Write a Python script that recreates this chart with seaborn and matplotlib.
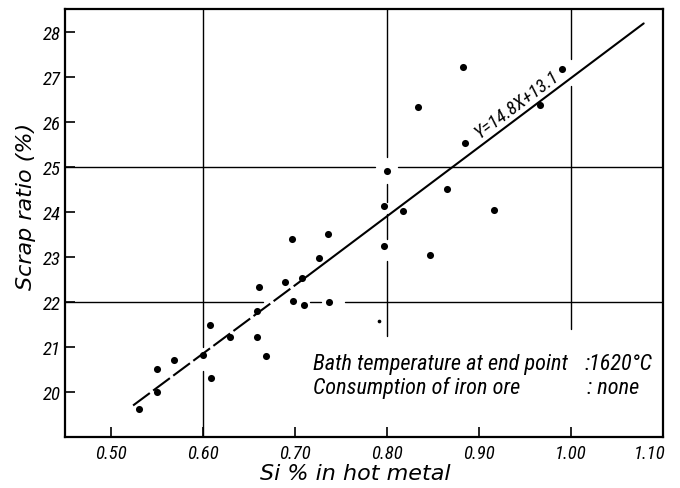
import matplotlib
matplotlib.use("Agg")
import matplotlib.pyplot as plt
import seaborn as sns
import pandas as pd
from matplotlib import font_manager
import matplotlib.transforms as mtransforms

# ---- data ----
si_pct = [0.530, 0.550, 0.550, 0.568, 0.600, 0.609, 0.608, 0.629, 0.659, 0.668,
          0.659, 0.661, 0.689, 0.708, 0.698, 0.710, 0.737, 0.726, 0.697, 0.736,
          0.797, 0.800, 0.797, 0.817, 0.847, 0.865, 0.885, 0.834, 0.883, 0.916,
          0.966, 0.990]
scrap_ratio = [19.62, 20.00, 20.51, 20.72, 20.81, 20.30, 21.49, 21.21, 21.23, 20.80,
               21.80, 22.33, 22.44, 22.53, 22.01, 21.92, 21.99, 22.98, 23.40, 23.50,
               23.23, 24.90, 24.12, 24.01, 23.03, 24.50, 25.53, 26.32, 27.21, 24.03,
               26.38, 27.17]
small_si = [0.791]
small_scrap = [21.58]

fit_x = [0.524, 0.714, 1.079]
fit_y = [19.70, 22.58, 28.18]

x_ticks = [0.50, 0.60, 0.70, 0.80, 0.90, 1.00, 1.10]
x_tick_labels = ["0.50", "0.60", "0.70", "0.80", "0.90", "1.00", "1.10"]
y_ticks = [20, 21, 22, 23, 24, 25, 26, 27, 28]
y_tick_labels = [str(v) for v in y_ticks]

equation = "Y=14.8X+13.1"
note_1 = "Bath temperature at end point"
note_1_val = ":1620°C"
note_2 = "Consumption of iron ore"
note_2_val = ": none"

# ---- style ----
sns.set_theme(style="white")
plt.rcParams["font.family"] = ["DejaVu Sans"]
plt.rcParams["text.color"] = "black"
plt.rcParams["axes.labelcolor"] = "black"
plt.rcParams["xtick.color"] = "black"
plt.rcParams["ytick.color"] = "black"

avail = {f.name for f in font_manager.fontManager.ttflist}
hand = "DejaVu Sans"
for cand in ["Liberation Sans Narrow", "Roboto Condensed", "Open Sans Condensed",
             "Liberation Sans", "Roboto"]:
    if cand in avail:
        hand = cand
        break
hand_fam = [hand, "DejaVu Sans"]

fig = plt.figure(figsize=(6.8, 4.89), dpi=100)
ax = fig.add_axes([65 / 680, 1 - 438 / 489, 598 / 680, 428 / 489])
ax.set_xlim(0.45, 1.10)
ax.set_ylim(19.0, 28.5)

# grid lines with the gaps of the original drawing
vsegs = [(0.60, 21.0, 28.5), (0.60, 19.0, 20.47),
         (0.80, 25.22, 28.5), (0.80, 24.22, 24.62), (0.80, 23.40, 23.96), (0.80, 21.25, 22.91),
         (1.00, 27.40, 28.5), (1.00, 21.40, 26.78)]
hsegs = [(25, 0.45, 0.787), (25, 0.812, 1.10),
         (22, 0.45, 0.665), (22, 0.716, 0.728), (22, 0.754, 1.10)]
for x, y0, y1 in vsegs:
    ax.plot([x, x], [y0, y1], color="black", lw=1.0, zorder=1)
for y, x0, x1 in hsegs:
    ax.plot([x0, x1], [y, y], color="black", lw=1.0, zorder=1)

# regression line: dashed lower part, solid upper part
ax.plot(fit_x[:2], fit_y[:2], color="black", lw=1.5, dashes=(10, 2), zorder=2)
ax.plot(fit_x[1:], fit_y[1:], color="black", lw=1.5, zorder=2)

df = pd.DataFrame({"si": si_pct, "scrap": scrap_ratio})
sns.scatterplot(data=df, x="si", y="scrap", ax=ax, color="black", s=26,
                edgecolor="black", linewidth=0, zorder=3)
sns.scatterplot(x=small_si, y=small_scrap, ax=ax, color="black", s=7,
                linewidth=0, zorder=3)

# axes styling
for sp in ax.spines.values():
    sp.set_visible(True)
    sp.set_color("black")
    sp.set_linewidth(1.6)
ax.set_xticks(x_ticks)
ax.set_xticklabels(x_tick_labels, family=hand_fam, style="italic", fontsize=13.5, color="black")
ax.set_yticks(y_ticks)
ax.set_yticklabels(y_tick_labels, family=hand_fam, style="italic", fontsize=13.5, color="black")
ax.tick_params(axis="both", direction="in", length=7, width=1.2, color="black",
               left=True, bottom=True)
ax.tick_params(axis="x", pad=5)
ax.tick_params(axis="y", pad=3)
last = ax.get_xticklabels()[-1]
last.set_ha("right")
last.set_transform(last.get_transform() + mtransforms.ScaledTranslation(3 / 100, 0, fig.dpi_scale_trans))

ax.set_xlabel("Si % in hot metal", fontsize=16, style="italic", family=["DejaVu Sans"], color="black")
ax.set_ylabel("Scrap ratio (%)", fontsize=16, style="italic", family=["DejaVu Sans"], color="black")
ax.xaxis.set_label_coords(0.485, -0.083)
ax.yaxis.set_label_coords(-0.065, 0.542)
ax.xaxis.label.set_va("center")
ax.yaxis.label.set_va("center")

ax.text(0.941, 26.40, equation, rotation=36.8, rotation_mode="anchor",
        ha="center", va="center", fontsize=13.5, style="italic", family=hand_fam)

tk = dict(fontsize=16, style="italic", family=hand_fam, va="baseline", ha="left")
ax.text(0.7196, 20.51, note_1, **tk)
ax.text(1.0150, 20.51, note_1_val, **tk)
ax.text(0.7196, 19.98, note_2, **tk)
ax.text(1.0170, 19.98, note_2_val, **tk)

fig.savefig("out.png", dpi=100, facecolor="white")
